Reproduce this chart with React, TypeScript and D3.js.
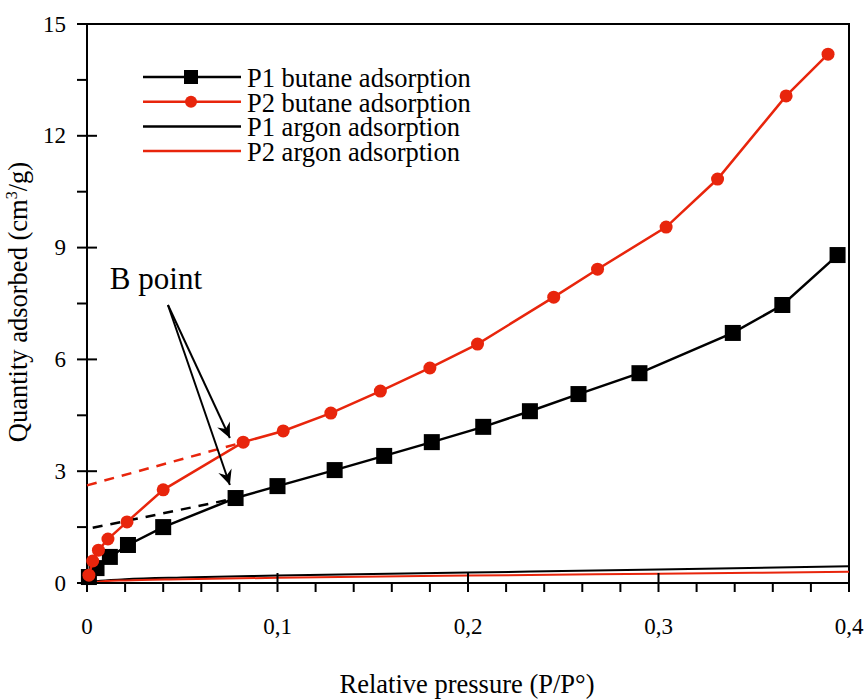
import React, { useRef, useEffect } from 'react';
import * as d3 from 'd3';

// butane isotherms (markers)
const p1ButaneX = [0.001, 0.005, 0.012, 0.0215, 0.04, 0.078, 0.1, 0.13, 0.156, 0.181, 0.208, 0.2325, 0.258, 0.29, 0.339, 0.365, 0.394];
const p1ButaneY = [0.16, 0.4, 0.7, 1.02, 1.5, 2.28, 2.6, 3.03, 3.41, 3.78, 4.19, 4.61, 5.07, 5.63, 6.71, 7.46, 8.8];
const p2ButaneX = [0.001, 0.003, 0.006, 0.011, 0.021, 0.04, 0.082, 0.103, 0.128, 0.154, 0.18, 0.205, 0.245, 0.268, 0.304, 0.331, 0.367, 0.389];
const p2ButaneY = [0.21, 0.59, 0.88, 1.18, 1.64, 2.5, 3.78, 4.08, 4.56, 5.15, 5.77, 6.41, 7.67, 8.42, 9.55, 10.84, 13.07, 14.19];

// argon isotherms (plain lines)
const argonX = [0, 0.005, 0.02, 0.05, 0.1, 0.2, 0.3, 0.4];
const p1ArgonY = [0, 0.05, 0.1, 0.15, 0.2, 0.28, 0.36, 0.45];
const p2ArgonY = [0, 0.03, 0.07, 0.1, 0.14, 0.2, 0.25, 0.3];

// B point extrapolation lines
const p1DashX = [0.003, 0.075];
const p1DashY = [1.48, 2.24];
const p2DashX = [0, 0.08];
const p2DashY = [2.62, 3.75];

// annotation
const arrowStart = [0.0425, 7.46];
const arrowTips = [[0.075, 3.89], [0.075, 2.63]];
const annotationPos = [0.012, 7.9];

const xMajor = [0, 0.1, 0.2, 0.3, 0.4];
const xLabels = ['0', '0,1', '0,2', '0,3', '0,4'];
const yMajor = [0, 3, 6, 9, 12, 15];

const legendItems = [
  { label: 'P1 butane adsorption', color: '#000', marker: 'square' },
  { label: 'P2 butane adsorption', color: '#e8250c', marker: 'circle' },
  { label: 'P1 argon adsorption', color: '#000', marker: 'none' },
  { label: 'P2 argon adsorption', color: '#e8250c', marker: 'none' },
];

const RED = '#e8250c';
const FONT = '"Liberation Serif", "Times New Roman", serif';

export default function App() {
  const svgRef = useRef<SVGSVGElement>(null);

  useEffect(() => {
    const svg = d3.select(svgRef.current);
    svg.selectAll('*').remove();

    const x = d3.scaleLinear().domain([0, 0.4]).range([87, 849]);
    const y = d3.scaleLinear().domain([0, 15]).range([583, 24]);

    const defs = svg.append('defs');
    defs.append('marker')
      .attr('id', 'arrowHead')
      .attr('viewBox', '-16 -8 18 16')
      .attr('markerUnits', 'userSpaceOnUse')
      .attr('markerWidth', 18).attr('markerHeight', 16)
      .attr('refX', 0).attr('refY', 0)
      .attr('orient', 'auto')
      .append('path')
      .attr('d', 'M0,0 L-15,-7 L-10,0 L-15,7 Z')
      .attr('fill', '#000');

    // Frame
    svg.append('line').attr('x1', x(0)).attr('x2', x(0.4) + 1).attr('y1', y(15)).attr('y2', y(15))
      .attr('stroke', '#000').attr('stroke-width', 2);
    svg.append('line').attr('x1', x(0.4)).attr('x2', x(0.4)).attr('y1', y(15)).attr('y2', y(0))
      .attr('stroke', '#000').attr('stroke-width', 2);

    // Argon lines
    const argonLine = (ys: number[]) => d3.line<number>()
      .x((d, i) => x(argonX[i]))
      .y(d => y(d))
      .curve(d3.curveMonotoneX)(ys);
    svg.append('path').attr('d', argonLine(p1ArgonY)).attr('fill', 'none')
      .attr('stroke', '#000').attr('stroke-width', 2);
    svg.append('path').attr('d', argonLine(p2ArgonY)).attr('fill', 'none')
      .attr('stroke', RED).attr('stroke-width', 2);

    // Axes
    svg.append('line').attr('x1', x(0)).attr('x2', x(0)).attr('y1', y(15) - 1).attr('y2', y(0))
      .attr('stroke', '#000').attr('stroke-width', 2);
    svg.append('line').attr('x1', x(0)).attr('x2', x(0.4) + 1).attr('y1', y(0)).attr('y2', y(0))
      .attr('stroke', '#000').attr('stroke-width', 2);

    d3.range(0, 15.01, 1.5).forEach(v => {
      const major = Math.abs(v % 3) < 1e-6;
      svg.append('line')
        .attr('x1', x(0) - 10).attr('x2', major ? x(0) + 10 : x(0))
        .attr('y1', y(v)).attr('y2', y(v))
        .attr('stroke', '#000').attr('stroke-width', 2);
    });
    d3.range(0, 0.4001, 0.02).forEach(v => {
      const major = xMajor.some(m => Math.abs(m - v) < 1e-6);
      svg.append('line')
        .attr('x1', x(v)).attr('x2', x(v))
        .attr('y1', major ? y(0) - 10 : y(0)).attr('y2', y(0) + 9)
        .attr('stroke', '#000').attr('stroke-width', 2);
    });

    yMajor.forEach(v => {
      svg.append('text')
        .attr('x', 66).attr('y', y(v))
        .attr('text-anchor', 'end').attr('dominant-baseline', 'central')
        .attr('font-family', FONT).attr('font-size', 23)
        .text(v);
    });
    xMajor.forEach((v, i) => {
      svg.append('text')
        .attr('x', x(v)).attr('y', 634)
        .attr('text-anchor', 'middle')
        .attr('font-family', FONT).attr('font-size', 23)
        .text(xLabels[i]);
    });

    svg.append('text')
      .attr('x', 467).attr('y', 693)
      .attr('text-anchor', 'middle')
      .attr('font-family', FONT).attr('font-size', 26.5)
      .text('Relative pressure (P/P°)');

    const yl = svg.append('text')
      .attr('transform', 'translate(27,302) rotate(-90)')
      .attr('text-anchor', 'middle')
      .attr('font-family', FONT).attr('font-size', 26.5);
    yl.append('tspan').text('Quantity adsorbed (cm');
    yl.append('tspan').attr('font-size', 16).attr('dy', -10).text('3');
    yl.append('tspan').attr('dy', 10).text('/g)');

    // Dashed extrapolations
    const dash = (xs: number[], ys: number[], color: string) => {
      svg.append('path')
        .attr('d', d3.line<number>().x((d, i) => x(xs[i])).y(d => y(d))(ys))
        .attr('fill', 'none').attr('stroke', color).attr('stroke-width', 2.5)
        .attr('stroke-dasharray', '10,8');
    };
    dash(p2DashX, p2DashY, RED);
    dash(p1DashX, p1DashY, '#000');

    // Butane series
    const line = (xs: number[], ys: number[]) =>
      d3.line<number>().x((d, i) => x(xs[i])).y(d => y(d))(ys);

    svg.append('path').attr('d', line(p1ButaneX, p1ButaneY)).attr('fill', 'none')
      .attr('stroke', '#000').attr('stroke-width', 2.5);
    p1ButaneX.forEach((v, i) => {
      svg.append('rect')
        .attr('x', x(v) - 8).attr('y', y(p1ButaneY[i]) - 8)
        .attr('width', 16).attr('height', 16).attr('fill', '#000');
    });

    svg.append('path').attr('d', line(p2ButaneX, p2ButaneY)).attr('fill', 'none')
      .attr('stroke', RED).attr('stroke-width', 2.5);
    p2ButaneX.forEach((v, i) => {
      svg.append('circle')
        .attr('cx', x(v)).attr('cy', y(p2ButaneY[i]))
        .attr('r', 6.5).attr('fill', RED);
    });

    // Annotation
    svg.append('text')
      .attr('x', x(annotationPos[0])).attr('y', y(annotationPos[1]))
      .attr('font-family', FONT).attr('font-size', 31)
      .text('B point');
    arrowTips.forEach(t => {
      svg.append('line')
        .attr('x1', x(arrowStart[0])).attr('y1', y(arrowStart[1]))
        .attr('x2', x(t[0])).attr('y2', y(t[1]))
        .attr('stroke', '#000').attr('stroke-width', 2)
        .attr('marker-end', 'url(#arrowHead)');
    });

    // Legend
    const lg = svg.append('g');
    legendItems.forEach((item, i) => {
      const ly = 77 + i * 24.7;
      lg.append('line').attr('x1', 143).attr('x2', 241).attr('y1', ly).attr('y2', ly)
        .attr('stroke', item.color).attr('stroke-width', 2.5);
      if (item.marker === 'square') {
        lg.append('rect').attr('x', 184).attr('y', ly - 7).attr('width', 14).attr('height', 14).attr('fill', item.color);
      } else if (item.marker === 'circle') {
        lg.append('circle').attr('cx', 191).attr('cy', ly).attr('r', 6).attr('fill', item.color);
      }
      lg.append('text')
        .attr('x', 247).attr('y', ly + 1)
        .attr('dominant-baseline', 'central')
        .attr('font-family', FONT).attr('font-size', 26.5)
        .text(item.label);
    });
  }, []);

  return (
    <svg
      ref={svgRef}
      width={868}
      height={700}
      style={{ position: 'absolute', left: 0, top: 0, background: '#fff' }}
    />
  );
}
